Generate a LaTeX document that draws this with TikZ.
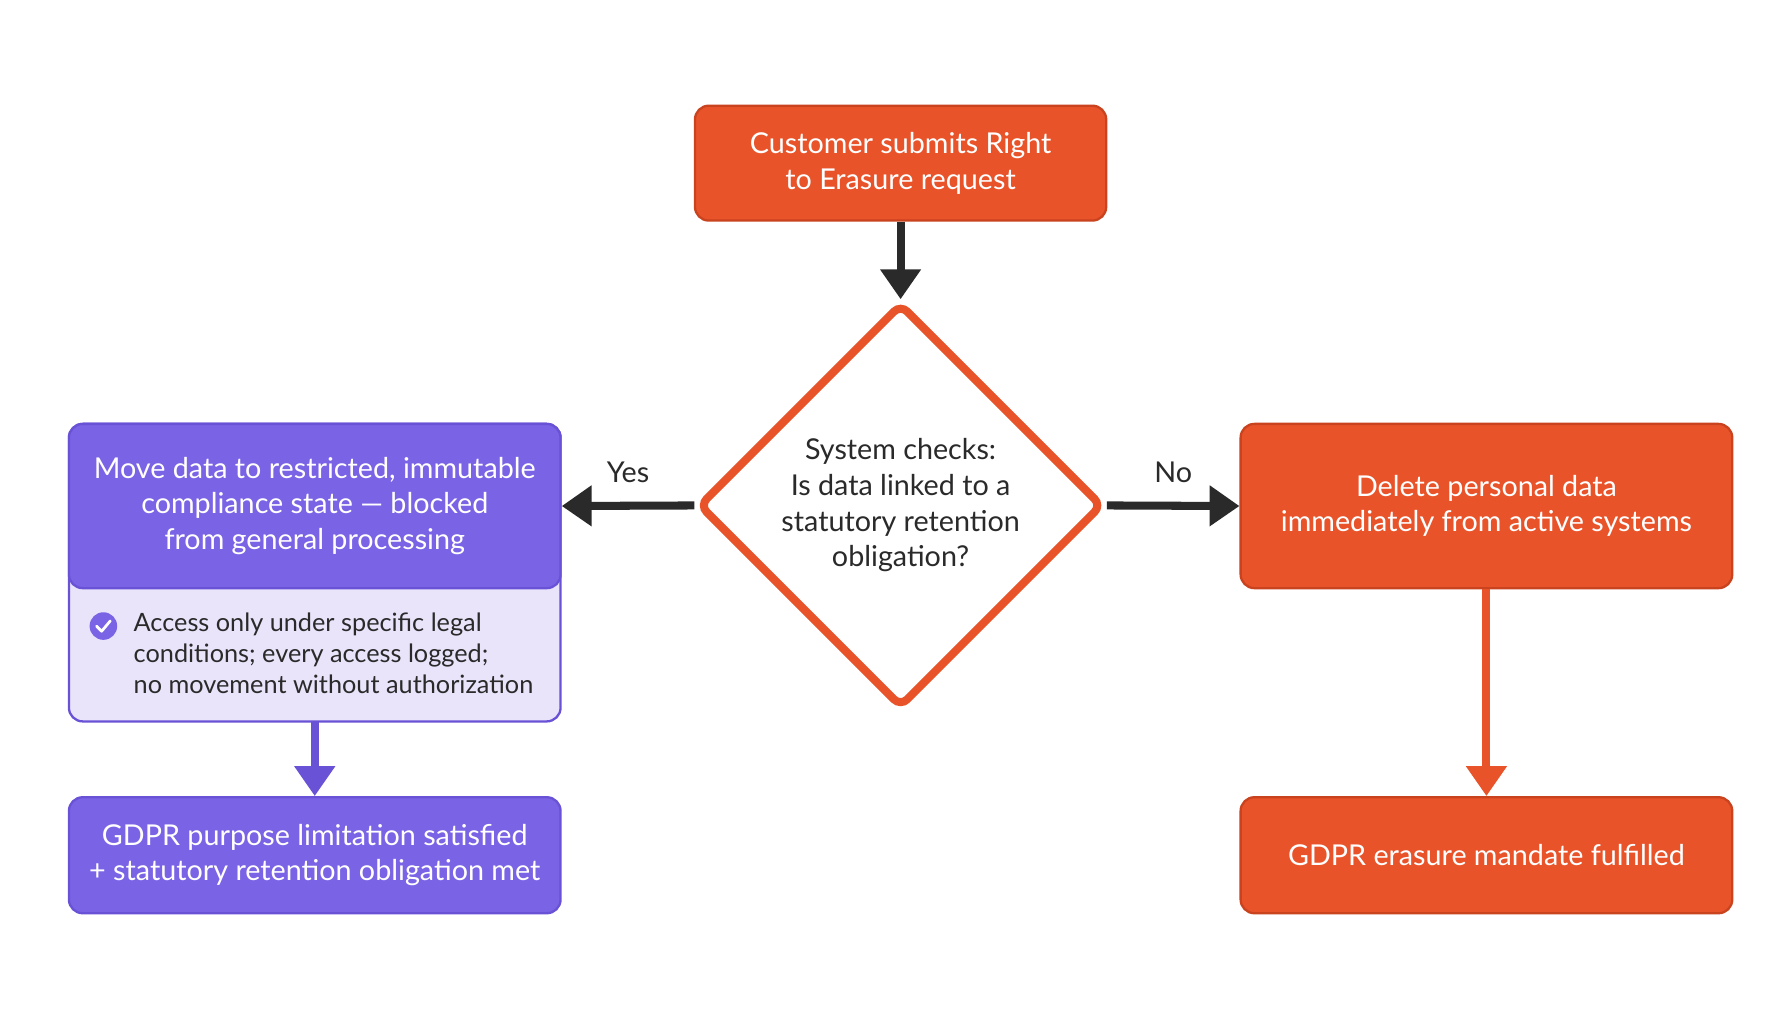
\documentclass[tikz,border=0pt]{standalone}
\usepackage{fontspec}
\setmainfont{Lato}
\usetikzlibrary{shapes.geometric,arrows.meta}
\definecolor{org}{HTML}{E9532A}
\definecolor{orgd}{HTML}{C8431E}
\definecolor{pur}{HTML}{7B63E6}
\definecolor{purd}{HTML}{6A52D6}
\definecolor{lav}{HTML}{E9E4FA}
\definecolor{dk}{HTML}{2A2A2A}
\tikzset{
 obox/.style={draw=orgd,line width=1pt,fill=org,rounded corners=6pt,text=white,font=\fontsize{12.5}{15.5}\selectfont,align=center,inner sep=0},
 pbox/.style={draw=purd,line width=1pt,fill=pur,rounded corners=6pt,text=white,font=\fontsize{12.5}{15.5}\selectfont,align=center,inner sep=0},
 arr/.style={line width=3.5pt,-{Triangle[length=13pt,width=17pt]}},
 lbl/.style={font=\fontsize{12.5}{15}\selectfont,text=dk}
}
\begin{document}
\begin{tikzpicture}[x=0.5pt,y=-0.5pt]
\useasboundingbox[fill=white] (0,0) rectangle (1560,891);
% top
\node[obox,minimum width=179pt,minimum height=50pt] (top) at (784,142) {Customer submits Right\\to Erasure request};
% diamond
\node[draw=org,line width=3.5pt,fill=white,diamond,minimum width=176pt,minimum height=176pt,inner sep=0,rounded corners=4pt,align=center,font=\fontsize{12.5}{15.5}\selectfont,text=dk] (dec) at (784,440) {System checks:\\Is data linked to a\\statutory retention\\obligation?};
% left box
\draw[purd,line width=1pt,fill=lav,rounded corners=6pt] (60,369) rectangle (488,628);
\node[pbox,minimum width=214pt,minimum height=71.5pt] (left) at (274,440.5) {Move data to restricted, immutable\\compliance state — blocked\\from general processing};
\coordinate (leftbot) at (274,628);
\node[circle,fill=pur,minimum size=12pt,inner sep=0] (chk) at (90,545) {};
\draw[white,line width=1.2pt,line cap=round,line join=round] (84,545) -- (88.5,549.5) -- (96,540.5);
\node[anchor=north west,align=left,inner sep=0,font=\fontsize{11}{13.5}\selectfont,text=dk] (note) at (116,533) {Access only under specific legal\\conditions; every access logged;\\no movement without authorization};
\node[pbox,minimum width=214pt,minimum height=50.5pt] (lres) at (274,744.5) {GDPR purpose limitation satisfied\\+ statutory retention obligation met};
% right
\node[obox,minimum width=214pt,minimum height=71.5pt] (right) at (1294,440.5) {Delete personal data\\immediately from active systems};
\node[obox,minimum width=214pt,minimum height=50.5pt] (rres) at (1294,744.5) {GDPR erasure mandate fulfilled};
% arrows
\draw[arr,dk] (top) -- (dec);
\draw[arr,dk] (dec.west) -- (left.east) node[lbl,midway,above=5pt] {Yes};
\draw[arr,dk] (dec.east) -- (right.west) node[lbl,midway,above=5pt] {No};
\draw[arr,purd] (leftbot) -- (lres);
\draw[arr,org] (right) -- (rres);
\end{tikzpicture}
\end{document}
